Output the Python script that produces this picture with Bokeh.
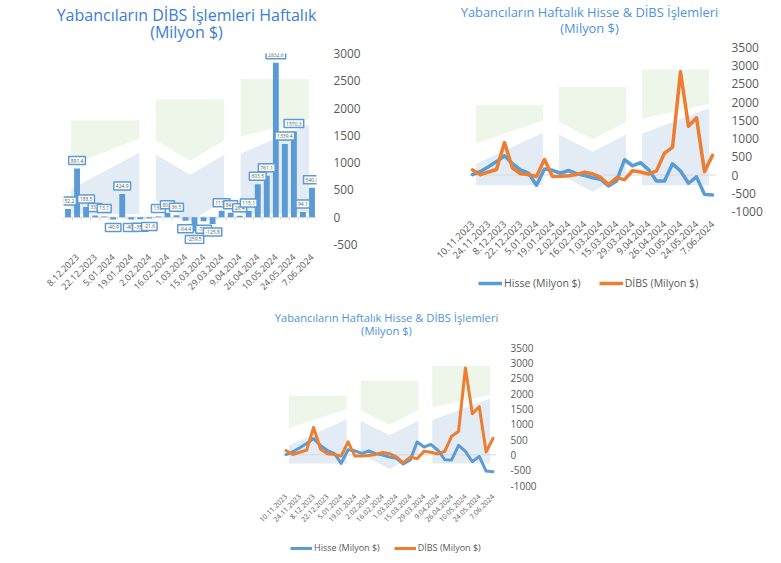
import math
from bokeh.plotting import figure
from bokeh.models import FixedTicker, Span, Legend, LegendItem, Spacer, ColumnDataSource
from bokeh.layouts import column, row
from bokeh.embed import file_html
from bokeh.resources import INLINE
from bokeh.core.properties import value

# ---------------- data ----------------
weeks = ["10.11.2023", "17.11.2023", "24.11.2023", "1.12.2023", "8.12.2023", "15.12.2023",
         "22.12.2023", "29.12.2023", "5.01.2024", "12.01.2024", "19.01.2024", "26.01.2024",
         "2.02.2024", "9.02.2024", "16.02.2024", "23.02.2024", "1.03.2024", "8.03.2024",
         "15.03.2024", "22.03.2024", "29.03.2024", "5.04.2024", "9.04.2024", "19.04.2024",
         "26.04.2024", "3.05.2024", "10.05.2024", "17.05.2024", "24.05.2024", "31.05.2024",
         "7.06.2024"]
hisse = [10, 100, 230, 370, 530, 310, 140, 50, -280, 165, 130, 50, 125, 40, -10, -75,
         -115, -300, -165, 420, 255, 340, 150, -160, -165, 310, 110, -225, -50, -530, -550]
dibs = [140, 10, 85, 152.2, 891.4, 188.5, 33.7, 13.1, -40.9, 424.9, -40.3, -35.1, -21.6,
        13.5, 80.6, 36.5, -64.4, -259.5, -73.0, -125.8, 117.5, 84.0, 28.4, 115.1, 603.5,
        761.1, 2832.6, 1339.4, 1570.3, 94.1, 540.8]
bar_weeks = weeks[3:]
bar_dibs = dibs[3:]

title_bar = ["Yabancıların DİBS İşlemleri Haftalık", "(Milyon $)"]
title_line = ["Yabancıların Haftalık Hisse & DİBS İşlemleri", "(Milyon $)"]
series_names = ["Hisse (Milyon $)", "DİBS (Milyon $)"]
bar_yticks = [-500, 0, 500, 1000, 1500, 2000, 2500, 3000]
line_yticks = [-1000, -500, 0, 500, 1000, 1500, 2000, 2500, 3000, 3500]

# ---------------- styles ----------------
FONT = "Open Sans"
BLUE = "#5b9bd5"
ORANGE = "#ed7d31"
GREY = "#595959"
ZERO = "#d9d9d9"
WM_GREEN = "#eef6e9"
WM_BLUE = "#e3ebf5"

# faint background logo, in fractions of the plot frame (fx from left, fy from top)
WATERMARK = [
    (WM_GREEN, [0.03, 0.30, 0.30, 0.03], [0.35, 0.35, 0.445, 0.585]),
    (WM_BLUE, [0.03, 0.30, 0.30, 0.03], [0.71, 0.52, 0.84, 0.84]),
    (WM_GREEN, [0.365, 0.635, 0.635, 0.5, 0.365], [0.24, 0.24, 0.455, 0.56, 0.455]),
    (WM_BLUE, [0.365, 0.5, 0.635, 0.635, 0.5, 0.365], [0.53, 0.635, 0.53, 0.77, 0.88, 0.77]),
    (WM_GREEN, [0.70, 0.97, 0.97, 0.70], [0.134, 0.134, 0.345, 0.435]),
    (WM_BLUE, [0.70, 0.97, 0.97, 0.70], [0.525, 0.37, 0.84, 0.84]),
]


def bare(width, height, mbl, mbr, xr, yr):
    f = figure(width=width, height=height, x_range=xr, y_range=yr,
               x_axis_type=None, y_axis_type=None, output_backend="svg",
               toolbar_location=None, title=None, min_border_left=mbl, min_border_right=mbr,
               min_border_top=0, min_border_bottom=0)
    f.outline_line_color = None
    f.grid.visible = False
    return f


def make_title(width, height, cx, lines, size, color, baselines):
    # whole-figure frame measured in pixels, so the title is never clipped
    tf = bare(width, height, 0, 0, (0, width), (height, 0))
    tf.text(x=[cx] * len(lines), y=baselines, text=lines, text_align="center",
            text_baseline="alphabetic", text_font=value(FONT), text_font_size=size,
            text_color=color)
    return row(tf)


def make_legend(width, height, mbl, mbr, lw, lsize, loc, glyph_w, spacing):
    lf = bare(width, height, mbl, mbr, (0, 1), (0, 1))
    # legend proxies (a single point off the visible range draws nothing)
    r_h = lf.line(x=[-1], y=[-1], line_color=BLUE, line_width=lw)
    r_d = lf.line(x=[-1], y=[-1], line_color=ORANGE, line_width=lw)
    leg = Legend(items=[LegendItem(label=series_names[0], renderers=[r_h]),
                        LegendItem(label=series_names[1], renderers=[r_d])],
                 location=loc, orientation="horizontal", padding=0, margin=0,
                 spacing=spacing, glyph_width=glyph_w, glyph_height=12, label_height=12,
                 label_standoff=2, label_text_font=FONT, label_text_font_size=lsize,
                 label_text_color=GREY, background_fill_alpha=0, border_line_color=None)
    lf.add_layout(leg)
    return lf


def add_watermark(p, xr, yr):
    for color, fx, fy in WATERMARK:
        xs = [xr[0] + f * (xr[1] - xr[0]) for f in fx]
        ys = [yr[1] - f * (yr[1] - yr[0]) for f in fy]
        p.patch(xs, ys, fill_color=color, line_color=None, level="image")


def style_axes(p, ylabels, ystandoff, ysize, xsize, xstandoff):
    for ax in (p.xaxis, p.yaxis):
        ax.axis_line_color = None
        ax.major_tick_line_color = None
        ax.minor_tick_line_color = None
        ax.major_label_text_font = FONT
        ax.major_label_text_color = GREY
    p.yaxis.ticker = FixedTicker(ticks=ylabels)
    p.yaxis.major_label_overrides = {v: str(v) for v in ylabels}
    p.yaxis.major_label_standoff = ystandoff
    p.yaxis.major_label_text_font_size = ysize
    p.xaxis.major_label_text_font_size = xsize
    p.xaxis.major_label_standoff = xstandoff
    p.xaxis.major_label_orientation = math.pi / 4
    p.grid.visible = False
    p.outline_line_color = None


# ---------------- chart 1: weekly bars ----------------
n_bar = len(bar_dibs)
xr1 = (-0.5, n_bar - 0.5)
yr1 = (bar_yticks[0], bar_yticks[-1])
p1 = figure(width=398, height=250, x_range=xr1, y_range=yr1, y_axis_location="right",
            output_backend="svg", toolbar_location=None, title=None,
            min_border_left=63, min_border_right=82, min_border_top=8, min_border_bottom=51)
add_watermark(p1, xr1, yr1)
bx = list(range(n_bar))
src1 = ColumnDataSource(dict(
    x=bx, top=bar_dibs,
    text=[f"{v:.1f}" for v in bar_dibs],
    yoff=[-8 if v >= 0 else 8 for v in bar_dibs],
))
p1.vbar(x="x", top="top", width=0.65, source=src1, fill_color=BLUE, line_color=None)
p1.add_layout(Span(location=0, dimension="width", line_color=ZERO, line_width=1, level="underlay"))
tick_len = 3 * (yr1[1] - yr1[0]) / 191
edges = [i - 0.5 for i in range(n_bar + 1)]
p1.segment(x0=edges, y0=[0] * len(edges), x1=edges, y1=[-tick_len] * len(edges),
           line_color=ZERO, line_width=1)
p1.text(x="x", y="top", text="text", y_offset="yoff", source=src1, text_align="center",
        text_baseline="middle", text_font=value(FONT), text_font_size="5px", text_color=GREY,
        background_fill_color="white", border_line_color=BLUE, border_line_width=1.5, padding=2)
style_axes(p1, bar_yticks, 11, "11.8px", "9px", 5)
p1.xaxis.ticker = FixedTicker(ticks=list(range(1, n_bar, 2)))
p1.xaxis.major_label_overrides = {i: bar_weeks[i] for i in range(1, n_bar, 2)}
tf1 = make_title(398, 45, 186, title_bar, "16px", "#3b7dd8", [14, 31])


# ---------------- charts 2 & 3: weekly lines ----------------
def make_line(width, height, mbl, mbr, mbt, mbb, ysize, ystandoff, xsize, xstandoff, lw):
    n = len(weeks)
    xr = (-0.5, n - 0.5)
    yr = (line_yticks[0], line_yticks[-1])
    p = figure(width=width, height=height, x_range=xr, y_range=yr, y_axis_location="right",
               output_backend="svg", toolbar_location=None, title=None,
               min_border_left=mbl, min_border_right=mbr, min_border_top=mbt, min_border_bottom=mbb)
    add_watermark(p, xr, yr)
    p.add_layout(Span(location=0, dimension="width", line_color=ZERO, line_width=1, level="underlay"))
    xs = list(range(n))
    p.line(xs, hisse, line_color=BLUE, line_width=lw, line_join="round", line_cap="round")
    p.line(xs, dibs, line_color=ORANGE, line_width=lw, line_join="round", line_cap="round")
    style_axes(p, line_yticks, ystandoff, ysize, xsize, xstandoff)
    p.xaxis.ticker = FixedTicker(ticks=list(range(0, n, 2)))
    p.xaxis.major_label_overrides = {i: weeks[i] for i in range(0, n, 2)}
    return p


tf2 = make_title(375, 40, 191, title_line, "12.9px", "#4f93dc", [11.5, 27])
p2 = make_line(375, 224, 70, 57, 7, 52, "12px", 9, "9.5px", 5, 3.5)
lf2 = make_legend(375, 31, 70, 57, 3.5, "10.5px", (10, 5), 24, 18)

tf3 = make_title(320, 45, 156, title_line, "11.2px", "#4f93dc", [22, 35])
p3 = make_line(320, 187, 52, 54, 7, 40, "10px", 8, "7px", 4, 3)
lf3 = make_legend(320, 31, 52, 54, 3, "9px", (8, 4), 22, 14)

layout = column(row(column(tf1, p1), column(tf2, p2, lf2)),
                row(Spacer(width=230, height=263), column(tf3, p3, lf3)))
open("out.html", "w").write(file_html(layout, INLINE))
